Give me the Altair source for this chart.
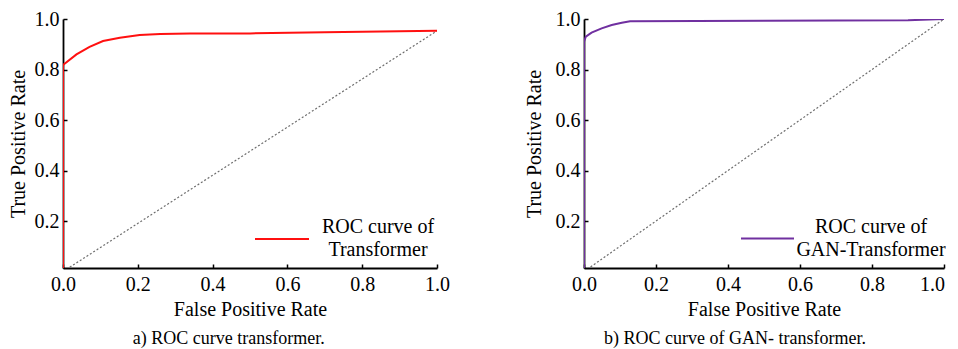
import altair as alt
import pandas as pd

# ---- data ----
fpr_trans = [0.0, 0.0, 0.036, 0.071, 0.107, 0.152, 0.205, 0.26, 0.34, 0.5, 0.7, 1.0]
tpr_trans = [0.0, 0.818, 0.86, 0.89, 0.913, 0.926, 0.937, 0.941, 0.943, 0.943, 0.948, 0.953]

fpr_gan = [0.0, 0.0, 0.005, 0.021, 0.049, 0.077, 0.105, 0.128, 0.5, 0.9, 1.0]
tpr_gan = [0.0, 0.91, 0.93, 0.946, 0.963, 0.976, 0.985, 0.991, 0.993, 0.995, 1.0]

diag_x = [0.0, 1.0]
diag_y_trans = [0.0, 0.953]
diag_y_gan = [0.0, 1.0]

x_ticks = [0.0, 0.2, 0.4, 0.6, 0.8, 1.0]
y_ticks = [0.2, 0.4, 0.6, 0.8, 1.0]

label_trans = "ROC curve of|Transformer"
label_gan = "ROC curve of|GAN-Transformer"
caption_trans = "a) ROC curve transformer."
caption_gan = "b) ROC curve of GAN- transformer."

FONT = "Liberation Serif"
H = 249


def panel(fpr, tpr, dx, dy, name, color, width, caption, lx, ly, sym_len, lab_off,
          last_shift, ytitle_pad):
    curve_df = pd.DataFrame({"fpr": fpr, "tpr": tpr, "series": name, "i": list(range(len(fpr)))})
    diag_df = pd.DataFrame({"fpr": dx, "tpr": dy})
    xs = alt.Scale(domain=[0, 1], nice=False, zero=False)
    ys = alt.Scale(domain=[0.014, 1.0], nice=False, zero=False)

    # diagonal layer carries the inward tick marks (axes placed on opposite side and shifted)
    diag = alt.Chart(diag_df).mark_line(
        color="#6e6e6e", strokeWidth=1.2, strokeDash=[2, 2], clip=True
    ).encode(
        x=alt.X("fpr:Q", scale=xs, axis=alt.Axis(
            orient="top", offset=-H, labels=False, domain=False, ticks=True,
            tickSize=4, tickWidth=1.5, tickColor="black", values=x_ticks, title=None, grid=False)),
        y=alt.Y("tpr:Q", scale=ys, axis=alt.Axis(
            orient="right", offset=-width, labels=False, domain=False, ticks=True,
            tickSize=4, tickWidth=1.5, tickColor="black", values=y_ticks, title=None, grid=False)),
    )

    curve = alt.Chart(curve_df).mark_line(strokeWidth=2, clip=True).encode(
        x=alt.X("fpr:Q", scale=xs, axis=alt.Axis(
            orient="bottom", title="False Positive Rate", values=x_ticks, format=".1f",
            ticks=False, labelPadding=6, titlePadding=5, domainWidth=1.8, domainColor="black",
            grid=False, labelFlush=False, labelFont=FONT, titleFont=FONT,
            labelOffset=alt.condition("datum.value == 1", alt.value(last_shift), alt.value(0)),
            labelFontSize=20, titleFontSize=20, labelColor="black", titleColor="black",
            titleFontWeight="normal")),
        y=alt.Y("tpr:Q", scale=ys, axis=alt.Axis(
            orient="left", title="True Positive Rate", values=y_ticks, format=".1f",
            ticks=False, labelPadding=4, titlePadding=ytitle_pad, domainWidth=1.8,
            domainColor="black", grid=False, labelFlush=False, labelFont=FONT, titleFont=FONT,
            labelFontSize=20, titleFontSize=20, labelColor="black", titleColor="black",
            titleFontWeight="normal")),
        color=alt.Color("series:N", scale=alt.Scale(domain=[name], range=[color]),
                        legend=alt.Legend(
                            orient="none", legendX=lx, legendY=ly, title=None,
                            symbolType="stroke", symbolSize=sym_len * sym_len,
                            symbolStrokeWidth=2, labelAlign="center", labelOffset=lab_off,
                            labelBaseline="line-bottom",
                            labelExpr="split(datum.label, '|')", labelFontSize=20,
                            labelFont=FONT, labelColor="black", labelLimit=400, padding=0)),
        order=alt.Order("i:Q"),
    )

    return alt.layer(diag, curve).resolve_scale(
        x="shared", y="shared"
    ).resolve_axis(
        x="independent", y="independent"
    ).properties(
        width=width, height=H,
        title=alt.TitleParams(caption, orient="bottom", anchor="middle", frame="bounds",
                              fontSize=18, font=FONT, fontWeight="normal", color="black",
                              offset=11),
    )


left = panel(fpr_trans, tpr_trans, diag_x, diag_y_trans, label_trans, "#ff1010", 374,
             caption_trans, 191, 192, 54, 68, 0, 6)
right = panel(fpr_gan, tpr_gan, diag_x, diag_y_gan, label_gan, "#7030a0", 360,
              caption_gan, 156, 192, 53, 76, -12, 11)

chart = alt.hconcat(left, right, spacing=74).resolve_scale(
    color="independent"
).resolve_legend(color="independent").properties(
    padding={"left": 0, "top": 1, "right": 0, "bottom": 0}
).configure(
    style={"guide-label": {"lineHeight": 23, "font": FONT},
           "guide-title": {"font": FONT}},
    view={"stroke": None},
    axis={"labelFont": FONT, "titleFont": FONT, "labelFontSize": 20, "titleFontSize": 20,
          "labelColor": "black", "titleColor": "black", "titleFontWeight": "normal"},
)

chart.save("out.html", embed_options={"renderer": "svg", "actions": False})
